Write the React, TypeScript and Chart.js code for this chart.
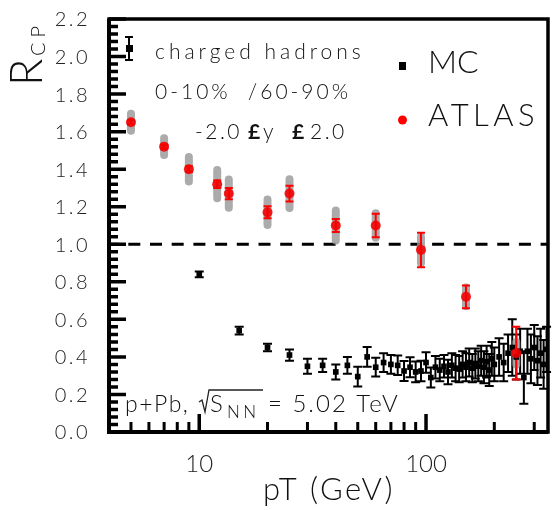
import { useEffect, useRef } from 'react'
import { Chart, ScatterController, PointElement, LinearScale, LogarithmicScale } from 'chart.js'

Chart.register(ScatterController, PointElement, LinearScale, LogarithmicScale);

const FONT = 'Lato, "Liberation Sans", Arial, sans-serif';

// MC: charged hadrons, 0-10% / 60-90%
const mcPt = [10, 15, 20, 25, 30, 35, 40, 45, 50, 55, 60, 65, 70, 75, 80, 85, 90, 95, 100, 105,
  110, 115, 120, 125, 130, 135, 140, 145, 150, 155, 160, 165, 170, 175, 180, 185, 190, 195, 200,
  210, 220, 230, 240, 250, 260, 270, 280, 290, 300, 310, 320, 330, 340];
const mcVal = [0.84, 0.54, 0.45, 0.41, 0.35, 0.355, 0.32, 0.355, 0.295, 0.40, 0.345, 0.37, 0.36, 0.355, 0.325, 0.345, 0.32, 0.325, 0.37, 0.29,
  0.345, 0.33, 0.35, 0.32, 0.355, 0.34, 0.335, 0.36, 0.345, 0.37, 0.34, 0.365, 0.35, 0.38, 0.345, 0.375, 0.33, 0.39, 0.36,
  0.40, 0.37, 0.42, 0.45, 0.40, 0.43, 0.29, 0.43, 0.39, 0.45, 0.38, 0.42, 0.36, 0.44];
const mcErr = [0.015, 0.02, 0.02, 0.03, 0.04, 0.035, 0.04, 0.045, 0.053, 0.053, 0.05, 0.05, 0.05, 0.052, 0.053, 0.053, 0.055, 0.055, 0.055, 0.053,
  0.06, 0.06, 0.06, 0.065, 0.065, 0.07, 0.07, 0.07, 0.075, 0.075, 0.075, 0.08, 0.08, 0.08, 0.085, 0.085, 0.085, 0.09, 0.09,
  0.1, 0.1, 0.1, 0.15, 0.12, 0.12, 0.14, 0.12, 0.13, 0.12, 0.13, 0.13, 0.13, 0.12];

// ATLAS
const atlasPt = [5, 7, 9, 12, 13.5, 20, 25, 40, 60, 95, 150, 250];
const atlasVal = [1.65, 1.52, 1.40, 1.32, 1.27, 1.17, 1.27, 1.10, 1.10, 0.97, 0.72, 0.42];
const atlasStat = [0.01, 0.01, 0.015, 0.02, 0.03, 0.032, 0.042, 0.035, 0.062, 0.092, 0.061, 0.14];
const atlasSys = [0.045, 0.045, 0.065, 0.075, 0.075, 0.068, 0.077, 0.08, 0.065, 0.07, 0.05, 0.06];

const yTicks = [0, 0.2, 0.4, 0.6, 0.8, 1.0, 1.2, 1.4, 1.6, 1.8, 2.0, 2.2];
const xMajor = [10, 100];
const xMinor = [5, 6, 7, 8, 9, 20, 30, 40, 50, 60, 70, 80, 90, 200, 300];

function bars(ctx: CanvasRenderingContext2D, chart: Chart, xs: number[], ys: number[], es: number[], cap: number) {
  const { x, y } = chart.scales;
  ctx.beginPath();
  xs.forEach((v, i) => {
    const px = x.getPixelForValue(v);
    const top = y.getPixelForValue(ys[i] + es[i]);
    const bot = y.getPixelForValue(ys[i] - es[i]);
    ctx.moveTo(px, top); ctx.lineTo(px, bot);
    ctx.moveTo(px - cap, top); ctx.lineTo(px + cap, top);
    ctx.moveTo(px - cap, bot); ctx.lineTo(px + cap, bot);
  });
  ctx.stroke();
}

function text(ctx: CanvasRenderingContext2D, s: string, x: number, y: number, size: number, ls = 0, weight = '300') {
  ctx.font = `${weight} ${size}px ${FONT}`;
  (ctx as any).letterSpacing = `${ls}px`;
  ctx.fillText(s, x, y);
}

const decor = {
  id: 'decor',
  beforeDatasetsDraw(chart: Chart) {
    const { ctx, chartArea: a, scales: { y } } = chart;
    ctx.save();
    // unity line
    const y1 = y.getPixelForValue(1);
    ctx.strokeStyle = '#000';
    ctx.lineWidth = 3;
    ctx.setLineDash([12, 9.7]);
    ctx.lineDashOffset = 2.4;
    ctx.beginPath(); ctx.moveTo(a.left, y1); ctx.lineTo(a.right, y1); ctx.stroke();
    ctx.setLineDash([]);
    // MC stat errors
    ctx.lineWidth = 2;
    bars(ctx, chart, mcPt, mcVal, mcErr, 4.5);
    // ATLAS systematic bands
    ctx.strokeStyle = 'rgba(150,150,150,0.8)';
    ctx.lineWidth = 8;
    ctx.lineCap = 'round';
    ctx.beginPath();
    atlasPt.forEach((v, i) => {
      const px = chart.scales.x.getPixelForValue(v);
      ctx.moveTo(px, y.getPixelForValue(atlasVal[i] + atlasSys[i]));
      ctx.lineTo(px, y.getPixelForValue(atlasVal[i] - atlasSys[i]));
    });
    ctx.stroke();
    ctx.lineCap = 'butt';
    // ATLAS stat errors
    ctx.strokeStyle = '#ff0000';
    ctx.lineWidth = 2;
    bars(ctx, chart, atlasPt, atlasVal, atlasStat, 4);
    ctx.restore();
  },
  afterDraw(chart: Chart) {
    const { ctx, chartArea: a, scales: { x, y } } = chart;
    ctx.save();
    ctx.strokeStyle = '#000';
    ctx.fillStyle = '#000';
    // frame
    ctx.lineWidth = 3.5;
    ctx.strokeRect(a.left, a.top, a.right - a.left, a.bottom - a.top);
    ctx.lineWidth = 4;
    ctx.beginPath();
    ctx.moveTo(a.left, a.top); ctx.lineTo(a.left, a.bottom); ctx.lineTo(a.right, a.bottom);
    ctx.stroke();
    // y ticks (minor every 0.04)
    ctx.lineWidth = 3.5;
    ctx.beginPath();
    for (let i = 0; i <= 55; i++) {
      const py = y.getPixelForValue(i * 0.04);
      ctx.moveTo(a.left, py); ctx.lineTo(a.left + (i % 5 === 0 ? 17 : 9), py);
    }
    ctx.stroke();
    // x ticks
    ctx.beginPath();
    xMajor.forEach(v => { const px = x.getPixelForValue(v); ctx.moveTo(px, a.bottom); ctx.lineTo(px, a.bottom - 18); });
    ctx.stroke();
    ctx.lineWidth = 3;
    ctx.beginPath();
    xMinor.forEach(v => { const px = x.getPixelForValue(v); ctx.moveTo(px, a.bottom); ctx.lineTo(px, a.bottom - 10); });
    ctx.stroke();

    // tick labels
    ctx.fillStyle = '#222';
    ctx.textBaseline = 'middle';
    ctx.textAlign = 'right';
    yTicks.forEach(v => text(ctx, v.toFixed(1), 90, y.getPixelForValue(v) + 1, 20, 2.5));
    ctx.textAlign = 'center';
    ctx.textBaseline = 'alphabetic';
    xMajor.forEach(v => text(ctx, String(v), x.getPixelForValue(v), 472, 24, 0));

    // axis titles
    ctx.fillStyle = '#111';
    ctx.textAlign = 'left';
    text(ctx, 'pT (GeV)', 263, 500, 31, 2.5);
    ctx.save();
    ctx.translate(42, 86);
    ctx.rotate(-Math.PI / 2);
    text(ctx, 'R', 0, 0, 45, 0);
    text(ctx, 'CP', 30, 3, 20, 5);
    ctx.restore();

    // legend glyph for MC
    ctx.lineWidth = 2;
    ctx.beginPath();
    ctx.moveTo(129, 37); ctx.lineTo(129, 60);
    ctx.moveTo(125, 37); ctx.lineTo(133, 37);
    ctx.moveTo(125, 60); ctx.lineTo(133, 60);
    ctx.stroke();
    ctx.fillStyle = '#000';
    ctx.fillRect(126, 45, 7, 7);

    ctx.fillStyle = '#111';
    text(ctx, 'charged hadrons', 155, 59, 21, 4);
    text(ctx, '0-10%  /60-90%', 155, 99, 21, 3);
    text(ctx, '-2.0', 195, 139, 21, 2.5);
    text(ctx, '£', 248, 139, 21, 0, 'bold');
    text(ctx, 'y', 263, 139, 21, 0);
    text(ctx, '£', 292, 139, 21, 0, 'bold');
    text(ctx, '2.0', 310, 139, 21, 2.5);

    // MC / ATLAS legend
    ctx.fillStyle = '#000';
    ctx.fillRect(399, 62, 7, 8);
    ctx.fillStyle = '#ff0000';
    ctx.beginPath(); ctx.arc(402.5, 120, 4.5, 0, Math.PI * 2); ctx.fill();
    ctx.fillStyle = '#111';
    text(ctx, 'MC', 428, 73, 32, 0);
    text(ctx, 'ATLAS', 428, 126, 31, 4.5);

    // collision system
    text(ctx, 'p+Pb,', 125, 412, 23, 1.5);
    ctx.strokeStyle = '#222';
    ctx.lineWidth = 1.3;
    ctx.beginPath();
    ctx.moveTo(199, 402); ctx.lineTo(202, 400); ctx.lineTo(205, 412);
    ctx.lineTo(209, 390); ctx.lineTo(263, 390);
    ctx.stroke();
    text(ctx, 'S', 210, 412, 24, 0);
    text(ctx, 'NN', 227, 418, 17, 3.5);
    text(ctx, '= 5.02 TeV', 268, 412, 24, 2);
    ctx.restore();
  },
};

export default function App() {
  const ref = useRef<HTMLCanvasElement>(null);
  const chart = useRef<Chart | null>(null);

  useEffect(() => {
    document.body.style.margin = '0';
    if (!ref.current) return;
    chart.current?.destroy();
    chart.current = new Chart(ref.current, {
      type: 'scatter',
      data: {
        datasets: [
          {
            label: 'ATLAS',
            data: atlasPt.map((v, i) => ({ x: v, y: atlasVal[i] })),
            pointStyle: 'circle',
            pointRadius: 5,
            backgroundColor: 'rgba(245,0,0,0.88)',
            borderWidth: 0,
          },
          {
            label: 'MC',
            data: mcPt.map((v, i) => ({ x: v, y: mcVal[i] })),
            pointStyle: 'rect',
            pointRadius: 4,
            backgroundColor: '#000',
            borderWidth: 0,
          },
        ],
      },
      options: {
        responsive: false,
        animation: false,
        layout: { padding: { top: 19, right: 2, left: 0, bottom: 0 } },
        plugins: { legend: { display: false }, tooltip: { enabled: false } },
        scales: {
          x: {
            type: 'logarithmic', min: 4, max: 345,
            grid: { display: false }, border: { display: false },
            ticks: { display: false },
            afterFit: (s: any) => { s.height = 78; },
          },
          y: {
            type: 'linear', min: 0, max: 2.2,
            grid: { display: false }, border: { display: false },
            ticks: { display: false },
            afterFit: (s: any) => { s.width = 109; },
          },
        },
      },
      plugins: [decor],
    });
    return () => { chart.current?.destroy(); };
  }, []);

  return (
    <div style={{ width: 553, height: 510 }}>
      <canvas ref={ref} width={553} height={510} />
    </div>
  );
}
